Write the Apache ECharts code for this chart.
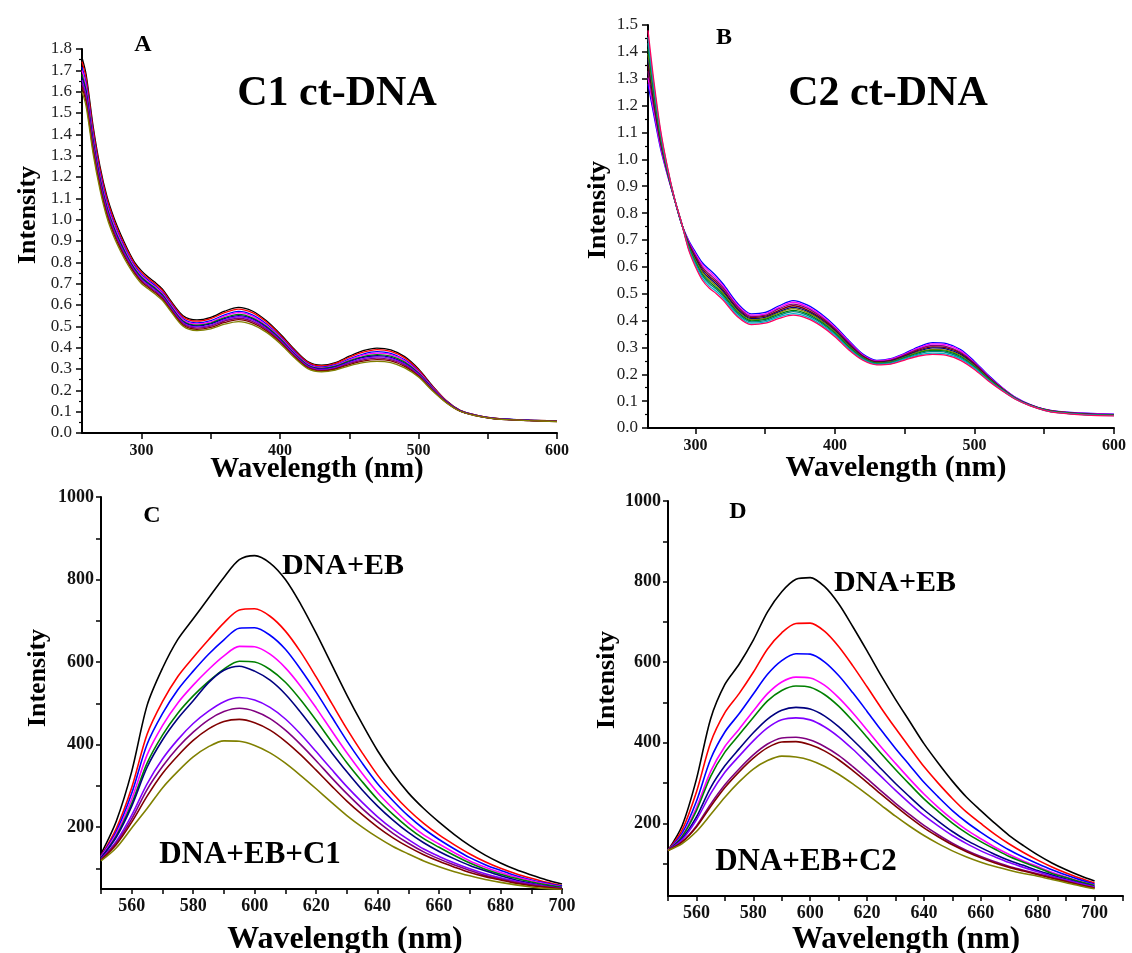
<!DOCTYPE html>
<html>
<head>
<meta charset="utf-8">
<script src="https://cdn.jsdelivr.net/npm/echarts@6/dist/echarts.min.js"></script>
<style>
html,body{margin:0;padding:0;background:#fff;}
#c{width:1132px;height:953px;}
</style>
</head>
<body>
<div id="c"></div>
<script>
// ---------- Panel A (C1 ct-DNA absorption) ----------
const wlA = [257,260,265,270,275,280,285,290,295,300,305,310,315,320,330,340,350,360,370,380,390,400,410,420,430,440,450,460,470,480,490,500,510,520,530,540,550,560,580,600];
const aBlack   = [1.76,1.68,1.44,1.25,1.11,1.01,0.93,0.86,0.80,0.76,0.73,0.705,0.675,0.63,0.55,0.53,0.542,0.571,0.589,0.572,0.527,0.465,0.395,0.335,0.318,0.33,0.36,0.386,0.398,0.39,0.358,0.30,0.222,0.152,0.106,0.086,0.073,0.066,0.06,0.057];
const aRed     = [1.741,1.662,1.424,1.237,1.098,0.999,0.920,0.852,0.793,0.753,0.723,0.698,0.669,0.624,0.544,0.524,0.536,0.564,0.581,0.564,0.521,0.460,0.390,0.331,0.314,0.326,0.355,0.379,0.391,0.383,0.352,0.295,0.219,0.151,0.106,0.086,0.073,0.066,0.060,0.057];
const aBlue    = [1.715,1.638,1.404,1.219,1.082,0.985,0.908,0.840,0.783,0.743,0.715,0.690,0.660,0.616,0.536,0.516,0.527,0.554,0.570,0.554,0.512,0.452,0.384,0.326,0.309,0.320,0.347,0.370,0.381,0.373,0.343,0.289,0.215,0.149,0.105,0.085,0.072,0.066,0.060,0.056];
const aMagenta = [1.699,1.623,1.391,1.208,1.072,0.976,0.900,0.833,0.777,0.737,0.709,0.684,0.655,0.611,0.531,0.511,0.521,0.548,0.564,0.548,0.506,0.448,0.380,0.322,0.306,0.317,0.343,0.365,0.374,0.367,0.338,0.286,0.213,0.148,0.104,0.085,0.072,0.065,0.059,0.056];
const aGreen   = [1.68,1.605,1.375,1.195,1.06,0.965,0.89,0.825,0.77,0.73,0.703,0.678,0.649,0.605,0.525,0.505,0.515,0.541,0.556,0.540,0.500,0.443,0.375,0.319,0.303,0.313,0.338,0.358,0.367,0.36,0.332,0.281,0.21,0.147,0.104,0.085,0.072,0.065,0.059,0.056];
const aNavy    = [1.667,1.593,1.365,1.186,1.052,0.958,0.884,0.819,0.765,0.725,0.698,0.673,0.644,0.601,0.521,0.501,0.511,0.536,0.550,0.535,0.496,0.439,0.372,0.316,0.300,0.310,0.334,0.354,0.362,0.355,0.327,0.278,0.208,0.146,0.104,0.084,0.072,0.065,0.059,0.055];
const aViolet  = [1.654,1.581,1.354,1.177,1.044,0.951,0.877,0.814,0.760,0.720,0.694,0.669,0.640,0.597,0.517,0.497,0.506,0.531,0.545,0.530,0.491,0.435,0.369,0.313,0.298,0.307,0.330,0.349,0.357,0.350,0.323,0.275,0.206,0.145,0.103,0.084,0.072,0.065,0.059,0.055];
const aPurple  = [1.638,1.566,1.341,1.166,1.034,0.942,0.869,0.807,0.754,0.714,0.688,0.663,0.635,0.592,0.512,0.492,0.501,0.525,0.538,0.523,0.486,0.431,0.365,0.310,0.294,0.303,0.326,0.343,0.351,0.344,0.318,0.271,0.204,0.144,0.103,0.084,0.071,0.064,0.058,0.055];
const aWine    = [1.621,1.549,1.327,1.154,1.023,0.932,0.860,0.799,0.748,0.708,0.682,0.657,0.629,0.586,0.506,0.486,0.495,0.518,0.531,0.516,0.480,0.426,0.360,0.306,0.291,0.300,0.321,0.337,0.344,0.338,0.312,0.267,0.201,0.143,0.102,0.083,0.071,0.064,0.058,0.054];
const aOlive   = [1.60,1.53,1.31,1.14,1.01,0.92,0.85,0.79,0.74,0.70,0.675,0.65,0.622,0.58,0.50,0.48,0.488,0.51,0.522,0.508,0.473,0.42,0.355,0.302,0.287,0.295,0.315,0.33,0.336,0.33,0.305,0.262,0.198,0.142,0.102,0.083,0.071,0.064,0.058,0.054];

// ---------- Panel B (C2 ct-DNA absorption) ----------
const wlB = [266,270,275,280,285,290,295,300,305,310,315,320,330,340,350,360,370,380,390,400,410,420,430,440,450,460,470,480,490,500,510,520,530,540,550,560,580,600];
const bBlue     = [1.28,1.17,1.04,0.94,0.85,0.76,0.70,0.655,0.615,0.59,0.565,0.535,0.465,0.425,0.43,0.455,0.474,0.458,0.425,0.38,0.325,0.275,0.252,0.258,0.278,0.302,0.318,0.314,0.292,0.248,0.196,0.15,0.112,0.087,0.07,0.062,0.055,0.052];
const bMagenta  = [1.304,1.186,1.048,0.944,0.851,0.761,0.696,0.648,0.607,0.582,0.557,0.528,0.459,0.420,0.425,0.449,0.468,0.452,0.420,0.375,0.321,0.272,0.250,0.256,0.275,0.298,0.313,0.309,0.287,0.244,0.193,0.149,0.111,0.086,0.070,0.061,0.054,0.051];
const bPurple   = [1.328,1.201,1.057,0.947,0.851,0.761,0.692,0.642,0.599,0.573,0.549,0.521,0.453,0.415,0.420,0.444,0.461,0.446,0.414,0.370,0.317,0.269,0.248,0.253,0.272,0.294,0.307,0.303,0.282,0.241,0.191,0.147,0.110,0.086,0.069,0.061,0.053,0.050];
const bWine     = [1.352,1.217,1.065,0.951,0.852,0.762,0.687,0.635,0.592,0.565,0.542,0.513,0.447,0.411,0.416,0.438,0.455,0.440,0.409,0.366,0.312,0.267,0.246,0.251,0.269,0.290,0.302,0.298,0.278,0.237,0.188,0.146,0.109,0.085,0.069,0.060,0.052,0.049];
const bNavy     = [1.372,1.230,1.072,0.954,0.852,0.762,0.684,0.630,0.585,0.558,0.535,0.507,0.442,0.407,0.412,0.433,0.449,0.435,0.404,0.362,0.309,0.264,0.244,0.249,0.267,0.286,0.298,0.294,0.274,0.234,0.186,0.144,0.109,0.085,0.068,0.059,0.052,0.049];
const bOlive    = [1.392,1.243,1.079,0.957,0.853,0.763,0.680,0.624,0.579,0.551,0.529,0.501,0.437,0.403,0.408,0.429,0.444,0.430,0.400,0.358,0.305,0.262,0.242,0.247,0.264,0.283,0.293,0.289,0.270,0.231,0.184,0.143,0.108,0.084,0.068,0.059,0.051,0.048];
const bGreen    = [1.412,1.256,1.086,0.960,0.853,0.763,0.677,0.619,0.572,0.544,0.522,0.495,0.432,0.399,0.404,0.424,0.438,0.425,0.395,0.354,0.302,0.260,0.241,0.245,0.262,0.280,0.289,0.285,0.266,0.228,0.182,0.142,0.107,0.084,0.067,0.058,0.050,0.047];
const bDarkCyan = [1.432,1.269,1.093,0.963,0.854,0.764,0.673,0.613,0.566,0.537,0.516,0.489,0.427,0.395,0.400,0.419,0.433,0.420,0.391,0.350,0.298,0.258,0.239,0.243,0.259,0.276,0.285,0.281,0.262,0.225,0.180,0.141,0.107,0.083,0.067,0.057,0.050,0.047];
const bCyan     = [1.456,1.284,1.102,0.966,0.854,0.764,0.669,0.607,0.558,0.528,0.508,0.482,0.421,0.390,0.395,0.414,0.426,0.414,0.385,0.345,0.294,0.255,0.237,0.240,0.256,0.272,0.279,0.275,0.257,0.222,0.178,0.139,0.106,0.083,0.066,0.057,0.049,0.046];
const bCrimson  = [1.48,1.30,1.11,0.97,0.855,0.765,0.665,0.60,0.55,0.52,0.50,0.475,0.415,0.385,0.39,0.408,0.42,0.408,0.38,0.34,0.29,0.252,0.235,0.238,0.253,0.268,0.274,0.27,0.252,0.218,0.175,0.138,0.105,0.082,0.066,0.056,0.048,0.045];

// ---------- Panels C and D (EB displacement, fluorescence) ----------
const wlF = [550,555,560,565,570,575,580,585,590,595,600,605,610,615,620,625,630,635,640,645,650,655,660,665,670,675,680,685,690,695,700];
const cBlack   = [135,215,335,495,585,655,705,755,805,848,858,840,800,740,670,595,520,450,385,330,283,245,212,182,155,132,113,97,84,72,62];
const cRed     = [130,197,296,425,504,565,611,654,695,726,729,711,675,624,564,501,438,380,326,281,242,209,181,157,135,116,100,87,76,66,58];
const cBlue    = [129,190,282,401,475,533,578,619,654,682,683,665,631,582,527,468,409,355,305,264,227,196,170,147,126,109,95,82,72,64,57];
const cMagenta = [127,184,268,375,446,501,544,582,615,638,637,619,586,541,489,434,380,330,284,245,210,181,159,138,118,103,90,79,70,62,55];
const cGreen   = [125,179,257,355,423,476,518,553,583,602,600,582,551,508,459,407,356,310,267,231,199,172,151,131,113,98,86,76,67,60,54];
const cNavy    = [125,176,251,345,411,463,506,550,580,590,578,556,522,478,430,381,334,290,251,217,187,162,141,123,107,94,82,72,64,57,52];
const cViolet  = [122,166,229,305,365,412,451,481,504,514,508,490,462,425,383,340,298,260,225,195,170,147,129,113,99,87,77,69,62,56,51];
const cPurple  = [121,162,220,291,347,393,430,460,480,488,481,463,435,400,361,320,281,245,213,185,161,140,123,108,95,83,74,66,60,55,51];
const cWine    = [120,158,212,275,330,373,410,438,456,461,453,435,408,375,338,300,263,230,200,174,152,133,117,103,90,80,72,64,58,54,50];
const cOlive   = [118,150,198,245,295,335,370,395,409,408,398,380,355,325,293,260,228,200,175,153,135,118,104,92,82,73,66,60,55,51,48];

const dBlack   = [133,195,310,460,545,595,655,725,775,806,810,788,745,688,628,566,508,453,398,350,305,265,232,200,170,145,122,102,85,70,57];
const dRed     = [133,184,278,401,475,522,575,633,673,696,697,677,639,591,539,486,436,388,341,300,262,228,200,173,149,128,109,92,77,64,52];
const dBlue    = [133,176,255,360,427,472,521,570,604,621,620,601,567,524,478,431,386,344,302,266,232,203,178,155,134,116,100,85,72,60,49];
const dMagenta = [133,170,239,329,391,434,479,522,551,563,561,543,512,474,432,389,349,310,273,240,210,184,162,141,123,107,93,79,67,56,47];
const dGreen   = [133,168,232,317,377,420,463,504,530,541,538,520,491,454,414,373,334,297,261,230,201,176,155,136,118,104,90,76,66,55,46];
const dNavy    = [133,163,216,289,343,385,425,459,481,488,484,467,440,407,372,335,299,266,234,206,180,158,140,123,108,96,83,72,62,52,43];
const dViolet  = [133,160,209,274,327,367,405,437,457,462,457,440,415,384,350,316,282,250,220,194,170,150,132,117,103,91,80,69,60,51,42];
const dPurple  = [133,155,194,248,296,335,370,397,412,414,407,391,369,341,311,280,250,222,195,172,151,133,118,105,93,84,75,66,57,48,40];
const dWine    = [133,154,191,242,289,328,362,388,402,403,395,380,358,331,302,272,243,215,189,167,147,130,115,102,91,82,73,64,56,47,40];
const dOlive   = [133,150,180,222,265,303,335,356,367,365,357,342,322,298,272,245,218,193,170,150,132,117,104,93,84,76,69,61,53,45,38];

// tick / label values
const ticksAx = [300,350,400,450,500,550,600];
const labelsAx = [300,400,500,600];
const ticksCy = [100,200,300,400,500,600,700,800,900,1000];
const labelsCy = [200,400,600,800,1000];

const colorsACD = ['#000000','#FF0000','#0000FF','#FF00FF','#008000','#000080','#8000FF','#800080','#800000','#808000'];
const colorsB = ['#0000FF','#FF00FF','#800080','#800000','#000080','#808000','#008000','#008080','#00B4C8','#FF0060'];

const chart = echarts.init(document.getElementById('c'), null, {renderer:'canvas'});
const SERIF = '"Liberation Serif", "Times New Roman", serif';

function mk(xs, ys, color, gi, w){
  return {type:'line', xAxisIndex:gi, yAxisIndex:gi, data: xs.map((x,i)=>[x, ys[i]]),
    showSymbol:false, smooth:0.3, silent:true, animation:false,
    lineStyle:{color:color, width:w}, itemStyle:{color:color}};
}
const axLine = {show:true, onZero:false, lineStyle:{color:'#000', width:2}};
const tick = (len)=>({show:true, inside:false, length:len, lineStyle:{color:'#000', width:1.5}});

const series = [];
[aBlack,aRed,aBlue,aMagenta,aGreen,aNavy,aViolet,aPurple,aWine,aOlive].forEach((s,i)=>series.push(mk(wlA,s,colorsACD[i],0,1.3)));
[bBlue,bMagenta,bPurple,bWine,bNavy,bOlive,bGreen,bDarkCyan,bCyan,bCrimson].forEach((s,i)=>series.push(mk(wlB,s,colorsB[i],1,1.3)));
[cBlack,cRed,cBlue,cMagenta,cGreen,cNavy,cViolet,cPurple,cWine,cOlive].forEach((s,i)=>series.push(mk(wlF,s,colorsACD[i],2,1.6)));
[dBlack,dRed,dBlue,dMagenta,dGreen,dNavy,dViolet,dPurple,dWine,dOlive].forEach((s,i)=>series.push(mk(wlF,s,colorsACD[i],3,1.6)));

function txt(text, x, y, size, rot){
  const e = {type:'text', x:x, y:y, silent:true,
    style:{text:text, font:'bold '+size+'px '+SERIF, fill:'#000',
      textAlign:'center', textVerticalAlign:'middle', align:'center', verticalAlign:'middle'}};
  if (rot) e.rotation = Math.PI/2;
  return e;
}
const plain = v=>String(v);

const option = {
  backgroundColor:'#fff',
  animation:false,
  grid:[
    {left:82, top:49, width:475, height:384},
    {left:648, top:25, width:466, height:403},
    {left:101, top:497, width:461, height:392},
    {left:668, top:501, width:455, height:395}
  ],
  xAxis:[
    {gridIndex:0, type:'value', min:257, max:600, axisLine:axLine,
     axisTick:Object.assign(tick(6),{customValues:ticksAx}),
     axisLabel:{customValues:labelsAx, margin:10, color:'#111', fontFamily:SERIF, fontWeight:'bold', fontSize:16, formatter:plain},
     splitLine:{show:false}},
    {gridIndex:1, type:'value', min:266, max:600, axisLine:axLine,
     axisTick:Object.assign(tick(6),{customValues:ticksAx}),
     axisLabel:{customValues:labelsAx, margin:10, color:'#111', fontFamily:SERIF, fontWeight:'bold', fontSize:16, formatter:plain},
     splitLine:{show:false}},
    {gridIndex:2, type:'value', min:550, max:700, interval:10, axisLine:axLine, axisTick:tick(5),
     axisLabel:{margin:8, color:'#111', fontFamily:SERIF, fontWeight:'bold', fontSize:18,
       formatter:v=>(v%20===0 ? String(v) : '')}, splitLine:{show:false}},
    {gridIndex:3, type:'value', min:550, max:710, interval:10, axisLine:axLine, axisTick:tick(5),
     axisLabel:{margin:8, color:'#111', fontFamily:SERIF, fontWeight:'bold', fontSize:18,
       formatter:v=>((v%20===0 && v<=700) ? String(v) : '')}, splitLine:{show:false}}
  ],
  yAxis:[
    {gridIndex:0, type:'value', min:0, max:1.8, interval:0.1, axisLine:axLine, axisTick:tick(6),
     minorTick:{show:true, splitNumber:2, length:3, lineStyle:{color:'#000', width:1.2}},
     axisLabel:{margin:10, color:'#222', fontFamily:SERIF, fontSize:17, formatter:v=>v.toFixed(1)},
     splitLine:{show:false}, minorSplitLine:{show:false}},
    {gridIndex:1, type:'value', min:0, max:1.5, interval:0.1, axisLine:axLine, axisTick:tick(6),
     minorTick:{show:true, splitNumber:2, length:3, lineStyle:{color:'#000', width:1.2}},
     axisLabel:{margin:10, color:'#222', fontFamily:SERIF, fontSize:17, formatter:v=>v.toFixed(1)},
     splitLine:{show:false}, minorSplitLine:{show:false}},
    {gridIndex:2, type:'value', min:50, max:1000, axisLine:axLine,
     axisTick:Object.assign(tick(5),{customValues:ticksCy}),
     axisLabel:{customValues:labelsCy, margin:7, color:'#111', fontFamily:SERIF, fontWeight:'bold', fontSize:18, formatter:plain},
     splitLine:{show:false}},
    {gridIndex:3, type:'value', min:20, max:1000, axisLine:axLine,
     axisTick:Object.assign(tick(5),{customValues:ticksCy}),
     axisLabel:{customValues:labelsCy, margin:7, color:'#111', fontFamily:SERIF, fontWeight:'bold', fontSize:18, formatter:plain},
     splitLine:{show:false}}
  ],
  series:series,
  graphic:[
    txt('A', 143, 45, 24),
    txt('C1 ct-DNA', 337, 94, 42),
    txt('B', 724, 38, 24),
    txt('C2 ct-DNA', 888, 94, 42),
    txt('C', 152, 516, 24),
    txt('DNA+EB', 343, 566, 30),
    txt('DNA+EB+C1', 250, 855, 31),
    txt('D', 738, 512, 24),
    txt('DNA+EB', 895, 583, 30),
    txt('DNA+EB+C2', 806, 862, 31),
    txt('Intensity', 28, 215, 26, true),
    txt('Intensity', 598, 210, 26, true),
    txt('Intensity', 38, 678, 26, true),
    txt('Intensity', 607, 680, 26, true),
    txt('Wavelength (nm)', 317, 470, 29),
    txt('Wavelength (nm)', 896, 468, 30),
    txt('Wavelength (nm)', 345, 940, 32),
    txt('Wavelength (nm)', 906, 940, 31)
  ]
};
chart.setOption(option);
</script>
</body>
</html>
